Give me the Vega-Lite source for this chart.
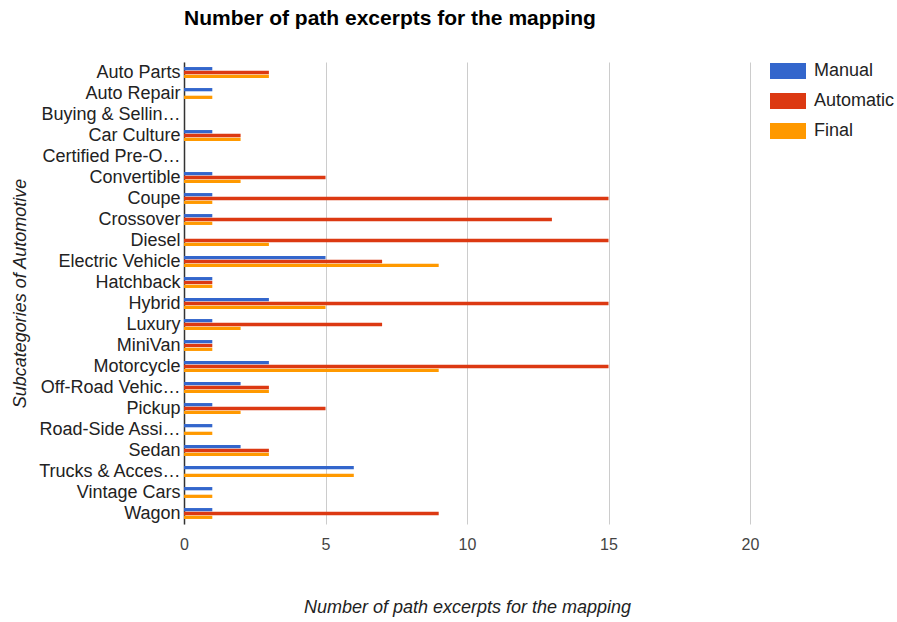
{
  "$schema": "https://vega.github.io/schema/vega-lite/v6.json",
  "width": 566,
  "height": 462,
  "autosize": {"type": "none"},
  "padding": {"left": 184, "top": 62, "right": 147, "bottom": 98},
  "background": "white",
  "title": {"text": "Number of path excerpts for the mapping", "anchor": "start", "frame": "group", "fontSize": 21, "fontWeight": "bold", "font": "Liberation Sans", "color": "#000000", "offset": 33},
  "config": {"view": {"stroke": null}, "font": "Liberation Sans"},
  "data": {"values": [
    {"cat": "Auto Parts", "series": "Manual", "value": 1},
    {"cat": "Auto Parts", "series": "Automatic", "value": 3},
    {"cat": "Auto Parts", "series": "Final", "value": 3},
    {"cat": "Auto Repair", "series": "Manual", "value": 1},
    {"cat": "Auto Repair", "series": "Automatic", "value": 0},
    {"cat": "Auto Repair", "series": "Final", "value": 1},
    {"cat": "Buying & Sellin…", "series": "Manual", "value": 0},
    {"cat": "Buying & Sellin…", "series": "Automatic", "value": 0},
    {"cat": "Buying & Sellin…", "series": "Final", "value": 0},
    {"cat": "Car Culture", "series": "Manual", "value": 1},
    {"cat": "Car Culture", "series": "Automatic", "value": 2},
    {"cat": "Car Culture", "series": "Final", "value": 2},
    {"cat": "Certified Pre-O…", "series": "Manual", "value": 0},
    {"cat": "Certified Pre-O…", "series": "Automatic", "value": 0},
    {"cat": "Certified Pre-O…", "series": "Final", "value": 0},
    {"cat": "Convertible", "series": "Manual", "value": 1},
    {"cat": "Convertible", "series": "Automatic", "value": 5},
    {"cat": "Convertible", "series": "Final", "value": 2},
    {"cat": "Coupe", "series": "Manual", "value": 1},
    {"cat": "Coupe", "series": "Automatic", "value": 15},
    {"cat": "Coupe", "series": "Final", "value": 1},
    {"cat": "Crossover", "series": "Manual", "value": 1},
    {"cat": "Crossover", "series": "Automatic", "value": 13},
    {"cat": "Crossover", "series": "Final", "value": 1},
    {"cat": "Diesel", "series": "Manual", "value": 0},
    {"cat": "Diesel", "series": "Automatic", "value": 15},
    {"cat": "Diesel", "series": "Final", "value": 3},
    {"cat": "Electric Vehicle", "series": "Manual", "value": 5},
    {"cat": "Electric Vehicle", "series": "Automatic", "value": 7},
    {"cat": "Electric Vehicle", "series": "Final", "value": 9},
    {"cat": "Hatchback", "series": "Manual", "value": 1},
    {"cat": "Hatchback", "series": "Automatic", "value": 1},
    {"cat": "Hatchback", "series": "Final", "value": 1},
    {"cat": "Hybrid", "series": "Manual", "value": 3},
    {"cat": "Hybrid", "series": "Automatic", "value": 15},
    {"cat": "Hybrid", "series": "Final", "value": 5},
    {"cat": "Luxury", "series": "Manual", "value": 1},
    {"cat": "Luxury", "series": "Automatic", "value": 7},
    {"cat": "Luxury", "series": "Final", "value": 2},
    {"cat": "MiniVan", "series": "Manual", "value": 1},
    {"cat": "MiniVan", "series": "Automatic", "value": 1},
    {"cat": "MiniVan", "series": "Final", "value": 1},
    {"cat": "Motorcycle", "series": "Manual", "value": 3},
    {"cat": "Motorcycle", "series": "Automatic", "value": 15},
    {"cat": "Motorcycle", "series": "Final", "value": 9},
    {"cat": "Off-Road Vehic…", "series": "Manual", "value": 2},
    {"cat": "Off-Road Vehic…", "series": "Automatic", "value": 3},
    {"cat": "Off-Road Vehic…", "series": "Final", "value": 3},
    {"cat": "Pickup", "series": "Manual", "value": 1},
    {"cat": "Pickup", "series": "Automatic", "value": 5},
    {"cat": "Pickup", "series": "Final", "value": 2},
    {"cat": "Road-Side Assi…", "series": "Manual", "value": 1},
    {"cat": "Road-Side Assi…", "series": "Automatic", "value": 0},
    {"cat": "Road-Side Assi…", "series": "Final", "value": 1},
    {"cat": "Sedan", "series": "Manual", "value": 2},
    {"cat": "Sedan", "series": "Automatic", "value": 3},
    {"cat": "Sedan", "series": "Final", "value": 3},
    {"cat": "Trucks & Acces…", "series": "Manual", "value": 6},
    {"cat": "Trucks & Acces…", "series": "Automatic", "value": 0},
    {"cat": "Trucks & Acces…", "series": "Final", "value": 6},
    {"cat": "Vintage Cars", "series": "Manual", "value": 1},
    {"cat": "Vintage Cars", "series": "Automatic", "value": 0},
    {"cat": "Vintage Cars", "series": "Final", "value": 1},
    {"cat": "Wagon", "series": "Manual", "value": 1},
    {"cat": "Wagon", "series": "Automatic", "value": 9},
    {"cat": "Wagon", "series": "Final", "value": 1}
  ]},
  "mark": {"type": "bar"},
  "encoding": {
    "y": {
      "field": "cat", "type": "nominal", "sort": null,
      "scale": {"paddingInner": 0.48, "paddingOuter": 0.24},
      "axis": {"title": "Subcategories of Automotive", "titleFontStyle": "italic", "titleFontWeight": "normal", "titleFontSize": 18, "titleColor": "#222222", "titleFont": "Liberation Sans", "titlePadding": 8, "labelFontSize": 18, "labelColor": "#222222", "labelFont": "Liberation Sans", "ticks": false, "labelPadding": 4, "domainColor": "#333333", "domainWidth": 1.5, "labelLimit": 200}
    },
    "yOffset": {"field": "series", "type": "nominal", "sort": ["Manual", "Automatic", "Final"], "scale": {"paddingInner": 0.15}},
    "x": {
      "field": "value", "type": "quantitative",
      "scale": {"domain": [0, 20], "nice": false},
      "axis": {"title": "Number of path excerpts for the mapping", "titleFontStyle": "italic", "titleFontWeight": "normal", "titleFontSize": 18, "titleColor": "#222222", "titleFont": "Liberation Sans", "titlePadding": 46, "values": [0, 5, 10, 15, 20], "labelFontSize": 16, "labelColor": "#444444", "labelFont": "Liberation Sans", "labelFlush": false, "ticks": false, "domain": false, "gridColor": "#cccccc", "labelPadding": 12}
    },
    "color": {
      "field": "series", "type": "nominal", "sort": ["Manual", "Automatic", "Final"],
      "scale": {"domain": ["Manual", "Automatic", "Final"], "range": ["#3366cc", "#dc3912", "#ff9900"]},
      "legend": {"title": null, "orient": "none", "legendX": 595, "legendY": 0, "symbolType": "M-2,-0.9H2V0.9H-2Z", "symbolSize": 324, "symbolStrokeWidth": 0, "symbolOpacity": 1, "labelFontSize": 18, "labelColor": "#222222", "labelFont": "Liberation Sans", "labelOffset": 17, "rowPadding": 12}
    }
  }
}
